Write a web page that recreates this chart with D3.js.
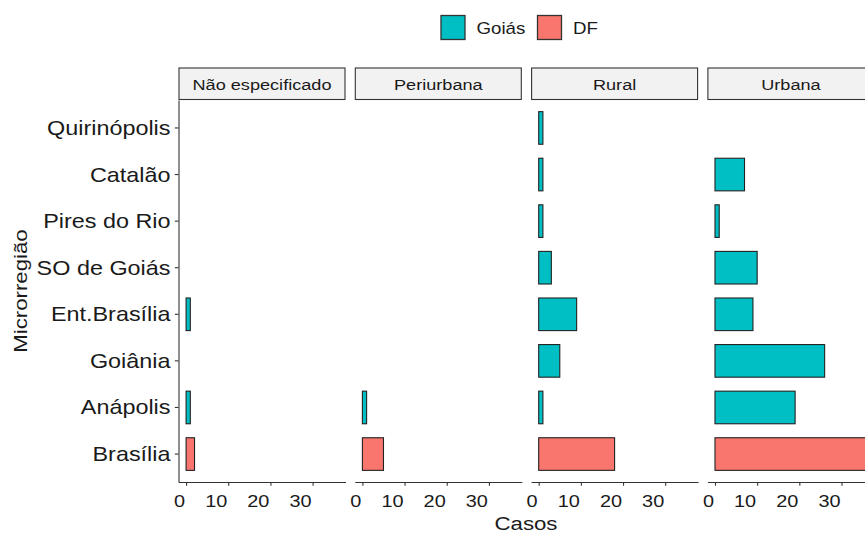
<!DOCTYPE html>
<html>
<head>
<meta charset="utf-8">
<script src="https://cdn.jsdelivr.net/npm/d3@7"></script>
<style>
  html, body { margin: 0; padding: 0; background: #fff; }
  svg { display: block; font-family: "Liberation Sans", Arial, Helvetica, sans-serif; }
</style>
</head>
<body>
<svg id="chart" width="865" height="536"></svg>
<script>
// ---- data ----
const regions = ["Quirinópolis", "Catalão", "Pires do Rio", "SO de Goiás", "Ent.Brasília", "Goiânia", "Anápolis", "Brasília"];
const regionGroup = ["Goiás", "Goiás", "Goiás", "Goiás", "Goiás", "Goiás", "Goiás", "DF"];
const facets = ["Não especificado", "Periurbana", "Rural", "Urbana"];
const casosNaoEspecificado = [0, 0, 0, 0, 1, 0, 1, 2];
const casosPeriurbana = [0, 0, 0, 0, 0, 0, 1, 5];
const casosRural = [1, 1, 1, 3, 9, 5, 1, 18];
const casosUrbana = [0, 7, 1, 10, 9, 26, 19, 36];
const legendGroups = ["Goiás", "DF"];
const groupColors = ["#00BFC4", "#F8766D"];
const xTicks = [0, 10, 20, 30];

const facetValues = [casosNaoEspecificado, casosPeriurbana, casosRural, casosUrbana];

// ---- layout ----
const svg = d3.select("#chart");
const SX = 1.17; // horizontal text stretch of the reference rendering
const panelLeft = 178.5, panelStep = 176.3, panelW = 167;
const panelTop = 100, panelBottom = 482;
const stripTop = 68;
const ink = "#1a1a1a", lineCol = "#333333";

const maxVal = d3.max(facetValues.flat());
const pad = maxVal * 0.05;
const x = d3.scaleLinear().domain([-pad, maxVal + pad]).range([0, panelW]);
const y = d3.scaleBand().domain(regions).range([panelTop, panelBottom]).paddingInner(0.3).paddingOuter(0.25);
const color = d3.scaleOrdinal().domain(legendGroups).range(groupColors);

svg.append("rect").attr("width", 865).attr("height", 536).attr("fill", "#fff");

function stretchText(sel, anchor) {
  sel.each(function () {
    const t = d3.select(this);
    const tx = +t.attr("x") || 0, ty = +t.attr("y") || 0;
    t.attr("x", 0).attr("y", 0)
      .attr("transform", `translate(${tx},${ty}) scale(${SX},1)`)
      .attr("text-anchor", anchor);
  });
}

facets.forEach((f, i) => {
  const gx = panelLeft + i * panelStep;
  const g = svg.append("g").attr("transform", `translate(${gx},0)`);

  // strip
  g.append("rect").attr("x", 0.5).attr("y", stripTop).attr("width", panelW - 1).attr("height", panelTop - stripTop - 0.5)
    .attr("fill", "#F2F2F2").attr("stroke", lineCol).attr("stroke-width", 1.1);
  g.append("text").attr("transform", `translate(${panelW / 2},${(stripTop + panelTop) / 2 + 5.5}) scale(${SX},1)`)
    .attr("text-anchor", "middle").attr("font-size", 15.5).attr("fill", ink).text(f);

  // bars
  const vals = facetValues[i];
  g.selectAll("rect.bar").data(regions.map((r, k) => ({ r, v: vals[k], grp: regionGroup[k] })).filter(d => d.v > 0))
    .join("rect").attr("class", "bar")
    .attr("x", x(0)).attr("y", d => y(d.r))
    .attr("width", d => x(d.v) - x(0)).attr("height", y.bandwidth())
    .attr("fill", d => color(d.grp)).attr("stroke", "#222").attr("stroke-width", 1.1);

  // x axis
  const ax = g.append("g").attr("transform", `translate(0,${panelBottom})`)
    .call(d3.axisBottom(x).tickValues(xTicks).tickSize(3.7).tickSizeOuter(0).tickPadding(0));
  ax.select(".domain").attr("stroke", lineCol).attr("stroke-width", 1.1);
  ax.selectAll(".tick line").attr("stroke", lineCol).attr("stroke-width", 1.1);
  ax.selectAll(".tick text").attr("x", -1.5).attr("y", 24.5).attr("dy", null)
    .attr("font-size", 17).attr("fill", ink).attr("font-family", null);
  stretchText(ax.selectAll(".tick text"), "end");

  // y axis only on first panel
  if (i === 0) {
    const ay = g.append("g").call(d3.axisLeft(y).tickSize(3.7).tickSizeOuter(0).tickPadding(0));
    ay.select(".domain").attr("stroke", lineCol).attr("stroke-width", 1.1);
    ay.selectAll(".tick line").attr("stroke", lineCol).attr("stroke-width", 1.1);
    ay.selectAll(".tick text").attr("x", -8).attr("y", 7).attr("dy", null)
      .attr("font-size", 20).attr("fill", ink).attr("font-family", null);
    stretchText(ay.selectAll(".tick text"), "end");
  }
});

// axis titles
svg.append("text").attr("transform", `translate(526,530) scale(${SX},1)`)
  .attr("text-anchor", "middle").attr("font-size", 19).attr("fill", ink).text("Casos");
svg.append("text").attr("transform", `translate(27,291) rotate(-90) scale(${SX},1)`)
  .attr("text-anchor", "middle").attr("font-size", 19).attr("fill", ink).text("Microrregião");

// legend
const legendX = [440.5, 537];
legendGroups.forEach((grp, k) => {
  const lg = svg.append("g").attr("transform", `translate(${legendX[k]},15)`);
  lg.append("rect").attr("x", 0.5).attr("y", 0.5).attr("width", 24).attr("height", 24)
    .attr("fill", color(grp)).attr("stroke", "#333").attr("stroke-width", 1.3);
  lg.append("text").attr("transform", `translate(36,18.5) scale(${SX},1)`)
    .attr("font-size", 16).attr("fill", ink).text(grp);
});
</script>
</body>
</html>
